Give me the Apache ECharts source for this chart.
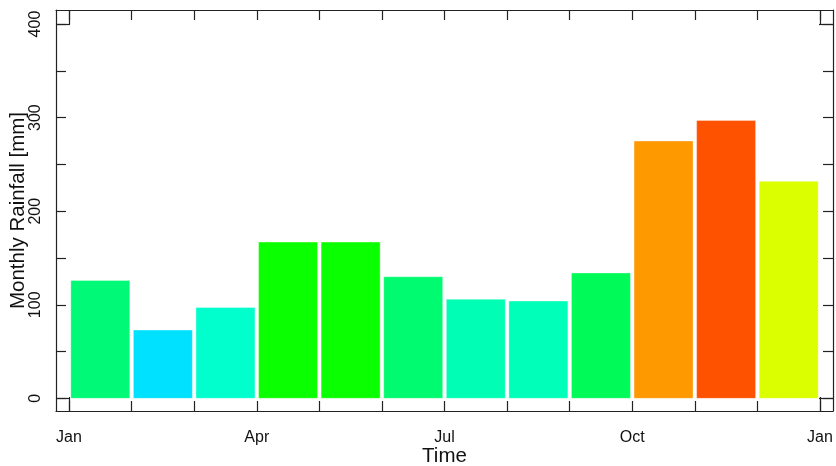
<!DOCTYPE html>
<html>
<head>
<meta charset="utf-8">
<script src="https://cdn.jsdelivr.net/npm/echarts@6/dist/echarts.min.js"></script>
<style>html,body{margin:0;padding:0;background:#fff;}#c{width:836px;height:466px;}</style>
</head>
<body>
<div id="c"></div>
<script>
// Data
const months = ['Jan','Feb','Mar','Apr','May','Jun','Jul','Aug','Sep','Oct','Nov','Dec'];
const rainfall = [126, 73, 97, 167, 167, 130, 106, 104, 134, 275, 297, 232];
const barColors = ['#00FA78','#00E0FF','#00FFCC','#0AFF00','#0AFF00','#00FA70','#00FFB5','#00FFB8','#00FA58','#FF9900','#FF5200','#DCFF00'];
const xTickLabels = ['Jan','Apr','Jul','Oct','Jan'];
const xTickLabelPos = [0, 3, 6, 9, 12];
const xTickPos = [0,1,2,3,4,5,6,7,8,9,10,11,12];
const yTickPos = [0,50,100,150,200,250,300,350,400];
const yLabelPos = [0,100,200,300,400];

const font = 'Liberation Sans, Arial, sans-serif';
const XMIN = -0.208, XMAX = 12.208, YMIN = -13.5, YMAX = 415;
const lineStyle = {color:'#222', width:1.2};

function xAx(pos, ticks, len, showLine, labels){
  return {
    type:'value', position:pos, min:XMIN, max:XMAX,
    axisLine:{show:showLine, onZero:false, lineStyle},
    axisTick:{show:true, inside:true, length:len, customValues:ticks, lineStyle},
    axisLabel: labels ? {show:true, customValues:xTickLabelPos, margin:19, fontFamily:font, fontSize:16, color:'#111',
      formatter:(v)=>xTickLabels[xTickLabelPos.indexOf(Math.round(v))]} : {show:false},
    splitLine:{show:false}
  };
}
function yAx(pos, ticks, len, showLine, labels){
  return {
    type:'value', position:pos, min:YMIN, max:YMAX,
    axisLine:{show:showLine, onZero:false, lineStyle},
    axisTick:{show:true, inside:true, length:len, customValues:ticks, lineStyle},
    axisLabel: labels ? {show:true, customValues:yLabelPos, rotate:90, margin:12, fontFamily:font, fontSize:16, color:'#111'} : {show:false},
    splitLine:{show:false}
  };
}

const xAxes = [
  Object.assign(xAx('bottom', xTickPos, 10, true, true), {name:'Time', nameLocation:'middle', nameGap:35, nameMoveOverlap:false, nameTextStyle:{fontFamily:font, fontSize:20.5, color:'#111'}}),
  xAx('top', xTickPos, 10, true, false),
  xAx('bottom', [0,12], 14, false, false),
  xAx('top', [0,12], 14, false, false)
];
const yAxes = [
  Object.assign(yAx('left', yTickPos, 10, true, true), {name:'Monthly Rainfall [mm]', nameLocation:'middle', nameGap:27, nameMoveOverlap:false, nameRotate:90, nameTextStyle:{fontFamily:font, fontSize:20.5, color:'#111'}}),
  yAx('right', yTickPos, 10, true, false),
  yAx('left', [0,400], 14, false, false),
  yAx('right', [0,400], 14, false, false)
];

const chart = echarts.init(document.getElementById('c'), null, {renderer:'canvas'});
chart.setOption({
  animation:false,
  backgroundColor:'#fff',
  grid:{left:56, right:3, top:10, bottom:55, containLabel:false, outerBoundsMode:'none'},
  xAxis: xAxes,
  yAxis: yAxes,
  series:[{
    type:'custom',
    xAxisIndex:0, yAxisIndex:0,
    data: rainfall.map((v,i)=>[i, v]),
    renderItem:(params, api)=>{
      const i = api.value(0), v = api.value(1);
      const p0 = api.coord([i, 0]);
      const p1 = api.coord([i+1, v]);
      return {
        type:'rect',
        shape:{x:p0[0]+1.8, y:p1[1], width:p1[0]-p0[0]-3.6, height:p0[1]-p1[1]},
        style:{fill:barColors[params.dataIndex], stroke:'rgba(255,255,255,0.35)', lineWidth:1}
      };
    }
  }]
});
</script>
</body>
</html>
